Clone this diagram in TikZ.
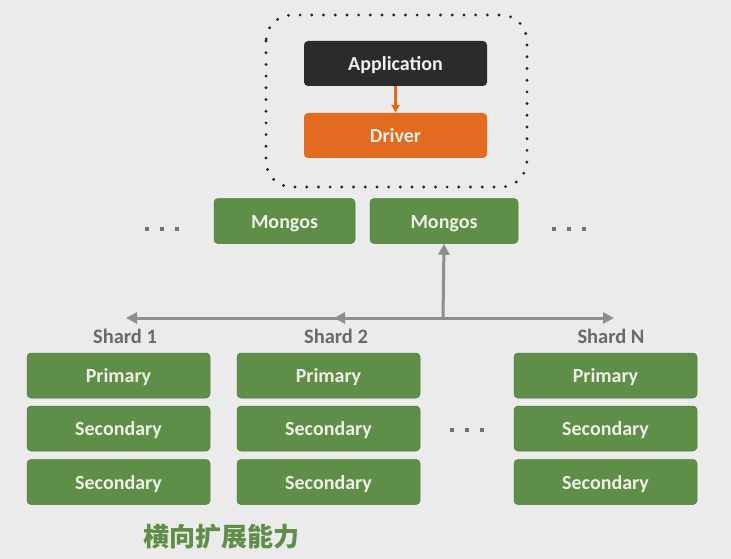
\documentclass[tikz,border=0pt]{standalone}
\usepackage{fontspec}
\setmainfont{Carlito}
\newfontfamily\cjk{Noto Sans CJK SC}
\usetikzlibrary{arrows.meta}
\definecolor{bg}{HTML}{EBEBEB}
\definecolor{grn}{HTML}{5E8E48}
\definecolor{drk}{HTML}{2B2B2B}
\definecolor{org}{HTML}{E26B1F}
\definecolor{gry}{HTML}{8E8E8E}
\definecolor{lbl}{HTML}{6A6A6A}
\definecolor{txt}{HTML}{EEF0E6}
\begin{document}
\begin{tikzpicture}[x=1pt,y=-1pt,
  box/.style={rounded corners=4pt,inner sep=0pt,text=txt,font=\fontsize{20}{24}\selectfont\bfseries,text height=14pt,text depth=0pt},
  gbox/.style={box,fill=grn,draw=grn!85!black,line width=0.5pt,minimum width=183pt,minimum height=45pt},
  slabel/.style={text=lbl,font=\fontsize{20.5}{24}\selectfont\bfseries,inner sep=0pt},
  dotsq/.style={fill=gry!80!black,minimum size=4.5pt,inner sep=0pt},
  garrow/.style={draw=gry,line width=3pt,-{Triangle[length=11pt,width=11pt]}}]
\fill[bg] (0,0) rectangle (731,559);
\useasboundingbox (0,0) rectangle (731,559);
% dotted group
\draw[draw=black!85,line width=3.2pt,line cap=round,dash pattern=on 0pt off 11.7pt,rounded corners=26pt] (266,15) rectangle (527,187);
\node[box,fill=drk,minimum width=183pt,minimum height=45pt] (app) at (395.5,63.5) {Application};
\node[box,fill=org,minimum width=183pt,minimum height=45pt] (drv) at (395.5,135.5) {Driver};
\draw[draw=org,line width=2.4pt,-{Triangle[length=8pt,width=8pt]}] (app.south) -- (drv.north);
% mongos
\node[gbox,minimum width=141pt] (m1) at (284.5,221) {Mongos};
\node[gbox,minimum width=148pt] (m2) at (444,221) {Mongos};
\foreach \x in {147,162,177} \node[dotsq] (dl\x) at (\x,229) {};
\foreach \x in {554,569,584} \node[dotsq] (dr\x) at (\x,229) {};
% arrows
\coordinate (hub) at (443,318);
\coordinate (lend) at (126,318);
\coordinate (mid) at (334,318);
\coordinate (rend) at (614,318);
\draw[garrow] (hub) -- (lend);
\draw[garrow] (hub) -- (mid);
\draw[garrow] (hub) -- (rend);
\draw[garrow] (hub) -- (m2.south);
% shards
\node[slabel] (s1) at (125,336) {Shard 1};
\node[slabel] (s2) at (336,336) {Shard 2};
\node[slabel] (sn) at (611,336) {Shard N};
\foreach \c/\x in {a/118.5,b/328.5,c/605.5}{
  \node[gbox] (\c p) at (\x,375.5) {Primary};
  \node[gbox] (\c s) at (\x,428.5) {Secondary};
  \node[gbox] (\c t) at (\x,482) {Secondary};
}
\foreach \x in {452,467,482} \node[dotsq] (dm\x) at (\x,430) {};
\node[text=grn,font=\cjk\bfseries\fontsize{26}{30}\selectfont,inner sep=0pt] (cap) at (221,537) {横向扩展能力};
\end{tikzpicture}
\end{document}
